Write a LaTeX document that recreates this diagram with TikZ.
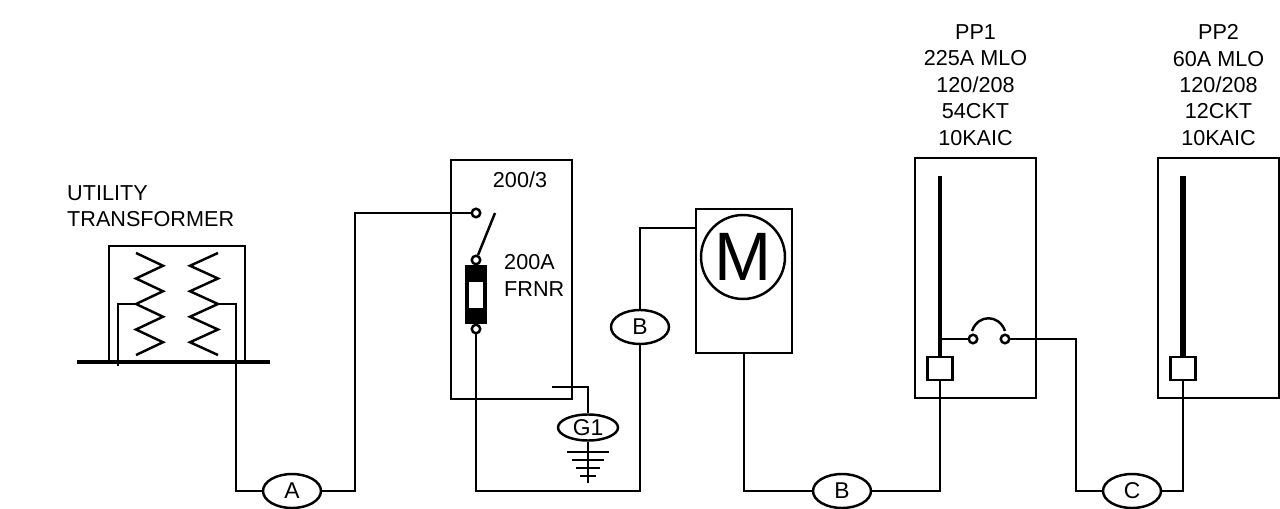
\documentclass[tikz,border=0pt]{standalone}
\usepackage{fontspec}
\setmainfont{Liberation Sans}
\usetikzlibrary{shapes.geometric}
\tikzset{
  cable/.style={draw, ellipse, fill=white, minimum width=1.16cm, minimum height=0.68cm, inner sep=0pt, font=\fontsize{13}{15}\selectfont},
  term/.style={draw, circle, fill=white, minimum size=0.17cm, inner sep=0pt},
  cbox/.style={draw, fill=white, minimum width=0.5cm, minimum height=0.46cm, inner sep=0pt},
  lbl/.style={font=\fontsize{12.3}{15}\selectfont, inner sep=0pt}
}

\begin{document}
\begin{tikzpicture}[x=0.02cm, y=-0.02cm, line width=1.4pt, line join=miter]
		\useasboundingbox (0,0) rectangle (1280,509);
		%%%%% START %%%%%
		% utility transformer
		\node[lbl, anchor=west, align=left] (xfmrlbl) at (66,206) {UTILITY\\TRANSFORMER};
		\draw (109,362) |- (245,246) -- (245,362);
		\draw[line width=1.9pt] (77,362) -- (270,362);
		\draw (136,253) -- (163,265.75) -- (136,278.5) -- (163,291.25) -- (136,304) -- (163,316.75) -- (136,329.5) -- (163,342.25) -- (136,355);
		\draw (218,253) -- (190,265.75) -- (218,278.5) -- (190,291.25) -- (218,304) -- (190,316.75) -- (218,329.5) -- (190,342.25) -- (218,355);
		\draw (118,366) |- (136,304);
		\coordinate (xfmrout) at (236,491);
		
		% service disconnect
		\draw (451,160) rectangle (572,399);
		\node[lbl] (swlbl) at (520,180) {200/3};
		\node[lbl, anchor=west, align=left] (fuselbl) at (503,275.5) {200A\\FRNR};
		\node[term] (swtop) at (476,213) {};
		\node[term] (swmid) at (476,260) {};
		\fill (465,265) rectangle (487,324);
		\fill[white] (469,282) rectangle (483,308);
		\node[term] (swbot) at (476,329) {};
		\draw (495,213) -- (swmid);
		
		% ground
		\node[cable, minimum width=1.2cm, minimum height=0.52cm] (gndG1) at (588,427.5) {G1};
		\draw (552,387) -| (gndG1.north);
		\draw (gndG1.south) -- (588,483);
		\draw (567,452) -- (609,452);
		\draw (572,460) -- (604,460);
		\draw (576,468) -- (600,468);
		\draw (580,476) -- (596,476);
		
		% meter
		\node[draw, minimum width=1.92cm, minimum height=2.88cm, inner sep=0pt] (mtr) at (744,281) {};
		\node[draw, circle, minimum size=1.68cm, inner sep=0pt, font=\fontsize{39}{40}\selectfont] (mtrM) at (743,257) {M};
		
		% panel PP1
		\node[lbl, align=center] (pp1lbl) at (975.5,85) {PP1\\225A MLO\\120/208\\54CKT\\10KAIC};
		\draw (915,158) rectangle (1036,398);
		\node[cbox] (pp1cb) at (940,368.5) {};
		\draw[line width=2.4pt] (940,176) -- (pp1cb.north);
		\node[term] (cbL) at (973,339) {};
		\node[term] (cbR) at (1005,339) {};
		\draw (940,339) -- (cbL);
		\draw (972,331) .. controls (978,314) and (999,314) .. (1005,331);
		
		% panel PP2
		\node[lbl, align=center] (pp2lbl) at (1218.5,85) {PP2\\60A MLO\\120/208\\12CKT\\10KAIC};
		\draw (1158,158) rectangle (1279,398);
		\node[cbox] (pp2cb) at (1183,368.5) {};
		\draw[line width=2.9pt] (1183,176) -- (pp2cb.north);
		
		% feeders
		\node[cable] (cabA) at (292,491) {A};
		\node[cable] (cabB1) at (640,327) {B};
		\node[cable] (cabB2) at (842,491) {B};
		\node[cable] (cabC) at (1132,491) {C};
		
		\draw (218,304) -| (xfmrout) -- (cabA.west);
		\draw (cabA.east) -- (355,491) |- (swtop.west);
		\draw (swbot) -- (476,491) -| (cabB1.south);
		\draw (cabB1.north) |- (mtr.west |- 0,228);
		\draw (mtr.south) -- (744,491) -- (cabB2.west);
		\draw (cabB2.east) -| (pp1cb.south);
		\draw (cbR) -- (1076,339) -- (1076,491) -- (cabC.west);
		\draw (cabC.east) -| (pp2cb.south);
		%%%%% END %%%%%
\end{tikzpicture}
\end{document}
